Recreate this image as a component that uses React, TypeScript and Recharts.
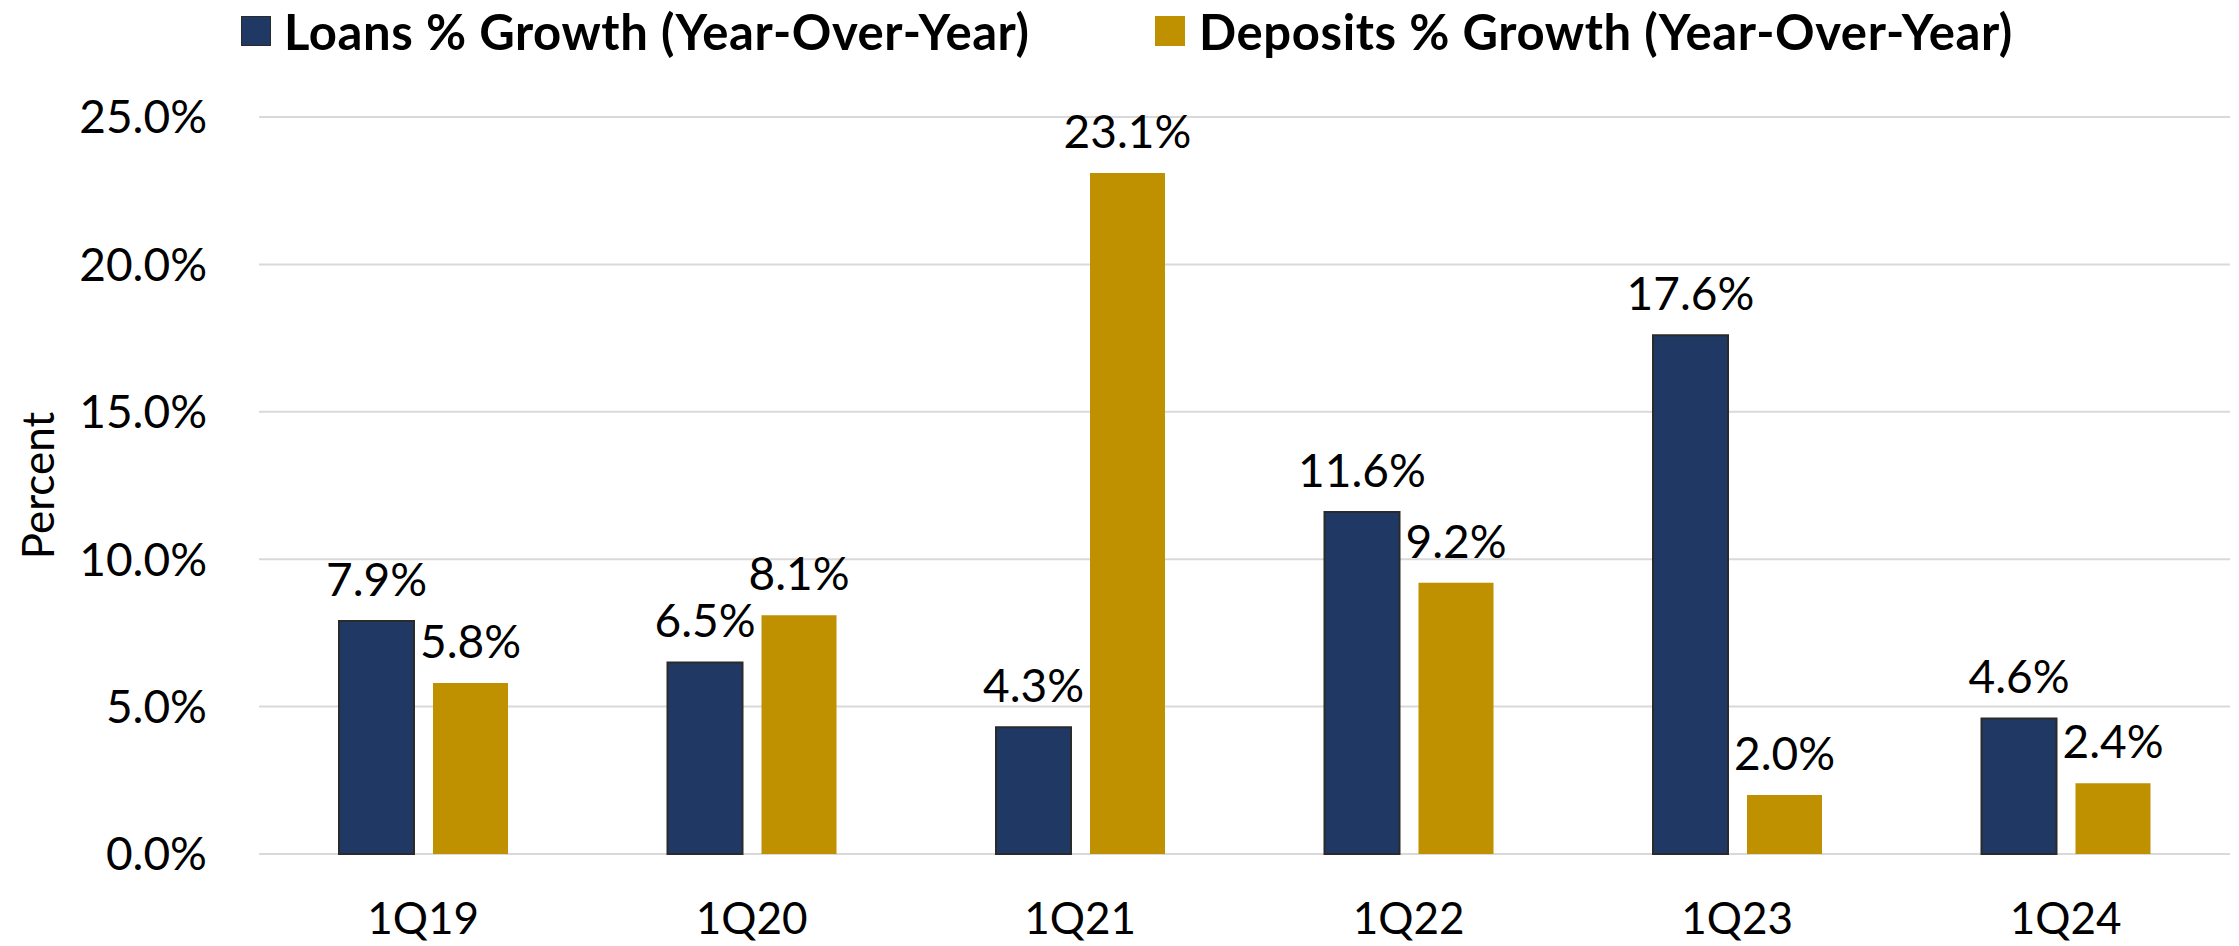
import React from 'react';
import { BarChart, Bar, XAxis, YAxis, CartesianGrid, Legend, LabelList } from 'recharts';

const categories = ['1Q19', '1Q20', '1Q21', '1Q22', '1Q23', '1Q24'];
const loansGrowth = [7.9, 6.5, 4.3, 11.6, 17.6, 4.6];
const depositsGrowth = [5.8, 8.1, 23.1, 9.2, 2.0, 2.4];
const yTicks = [0, 5, 10, 15, 20, 25];
const seriesNames = ['Loans % Growth (Year-Over-Year)', 'Deposits % Growth (Year-Over-Year)'];
const seriesColors = ['#203864', '#BF9000'];

const data = categories.map((c, i) => ({ name: c, loans: loansGrowth[i], deposits: depositsGrowth[i] }));

const FONT = 'Lato, "Open Sans", sans-serif';
const fmt = (v: number) => `${Number(v).toFixed(1)}%`;

const legendSquareLefts = [241, 1155];
const legendTextLefts = [284, 1199];

const LegendContent = () => {
  return (
    <div style={{ position: 'relative', width: 2239, height: 0 }}>
      {seriesNames.map((name, i) => (
        <React.Fragment key={i}>
          <div style={{ position: 'absolute', left: legendSquareLefts[i], top: 16, width: 30, height: 30, background: seriesColors[i], boxSizing: 'border-box', border: i === 0 ? '1.5px solid #2a2a2a' : 'none' }} />
          <div style={{ position: 'absolute', left: legendTextLefts[i], top: 7, whiteSpace: 'nowrap', fontFamily: FONT, fontWeight: 700, fontSize: 49, letterSpacing: '0.6px', lineHeight: 1, color: '#000' }}>{name}</div>
        </React.Fragment>
      ))}
    </div>
  );
};

const YLabel = (props: any) => {
  const vb = props.viewBox || { x: 0, y: 0, width: 0, height: 0 };
  const cx = vb.x + 37;
  const cy = vb.y + vb.height / 2;
  return (
    <text x={cx} y={cy} transform={`rotate(-90, ${cx}, ${cy})`} textAnchor="middle" dominantBaseline="central" fontFamily={FONT} fontSize={44} fill="#000">
      Percent
    </text>
  );
};

export default function App() {
  return (
    <div style={{ position: 'absolute', left: 0, top: 0, background: '#fff' }}>
      <BarChart width={2239} height={946} data={data} margin={{ top: 117, right: 9, bottom: 32, left: 0 }} barSize={75} barGap={19}>
        <CartesianGrid vertical={false} stroke="#D9D9D9" strokeWidth={2} />
        <XAxis dataKey="name" height={60} axisLine={false} tickLine={false} tickSize={0} tickMargin={49} interval={0}
          tick={{ fontFamily: FONT, fontSize: 44, fill: '#000' }} />
        <YAxis width={259} domain={[0, 25]} ticks={yTicks} axisLine={false} tickLine={false} tickSize={0} tickMargin={52}
          tickFormatter={fmt} tick={{ fontFamily: FONT, fontSize: 46, fill: '#000' }} label={<YLabel />} />
        <Legend verticalAlign="top" content={<LegendContent />}
          wrapperStyle={{ position: 'absolute', top: 0, left: 0, width: 2239, height: 0, overflow: 'visible' }} />
        <Bar dataKey="loans" name={seriesNames[0]} fill={seriesColors[0]} stroke="#2a2a2a" strokeWidth={2} isAnimationActive={false}>
          <LabelList dataKey="loans" position="top" offset={25} formatter={fmt}
            style={{ fontFamily: FONT, fontSize: 46, fill: '#000' }} />
        </Bar>
        <Bar dataKey="deposits" name={seriesNames[1]} fill={seriesColors[1]} isAnimationActive={false}>
          <LabelList dataKey="deposits" position="top" offset={25} formatter={fmt}
            style={{ fontFamily: FONT, fontSize: 46, fill: '#000' }} />
        </Bar>
      </BarChart>
    </div>
  );
}
